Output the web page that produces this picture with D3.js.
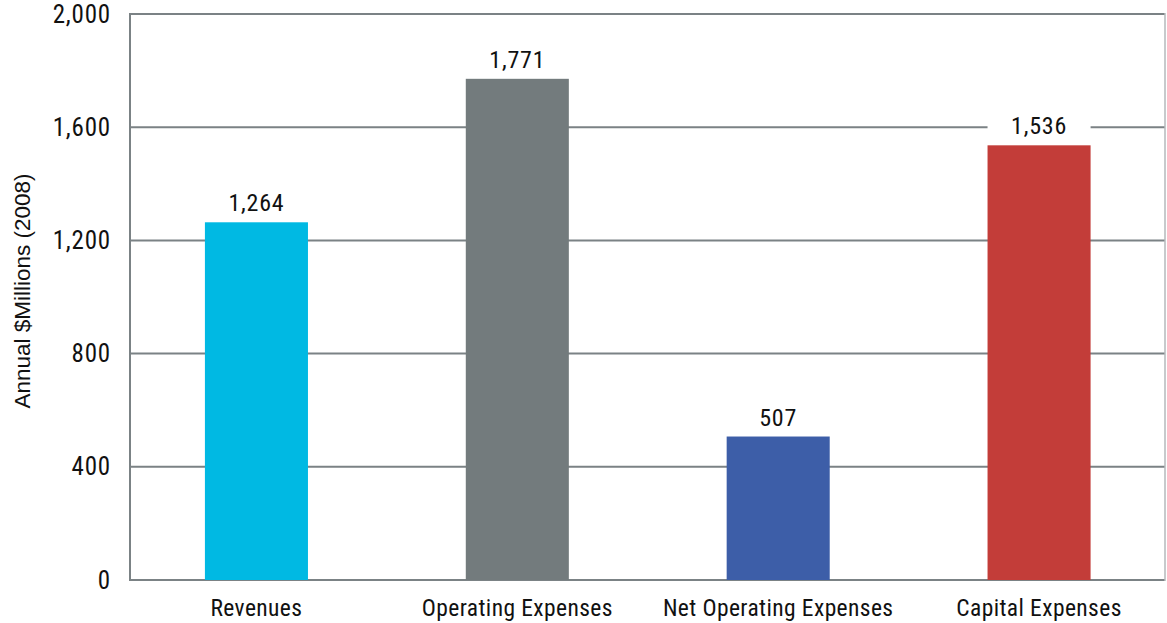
<!DOCTYPE html>
<html>
<head>
<meta charset="utf-8">
<script src="https://cdn.jsdelivr.net/npm/d3@7"></script>
<style>
  html, body { margin: 0; padding: 0; background: #fff; }
  svg { display: block; }
</style>
</head>
<body>
<svg id="chart" width="1167" height="623"></svg>
<script>
// Annual budget components, $ millions (2008)
const categories = ["Revenues", "Operating Expenses", "Net Operating Expenses", "Capital Expenses"];
const values = [1264, 1771, 507, 1536];
const barColors = ["#00b9e3", "#737b7d", "#3d5ea8", "#c33d39"];
const yTicks = [0, 400, 800, 1200, 1600, 2000];
const yTitle = "Annual $Millions (2008)";

const svg = d3.select("#chart");
const margin = { left: 130, right: 2, top: 14, bottom: 43 };
const W = 1167, H = 623;

// category slots (slightly wider than the framed plot area)
const x = d3.scaleBand()
  .domain(categories)
  .range([126, 1169.5])
  .padding(0);

const y = d3.scaleLinear()
  .domain([0, 2000])
  .range([H - margin.bottom, margin.top]);

const gridColor = "#7b8285";
const narrow = "'Roboto Condensed', 'Arial Narrow', 'Liberation Sans', sans-serif";

// horizontal gridlines
svg.append("g")
  .selectAll("line")
  .data(yTicks)
  .join("line")
  .attr("x1", margin.left)
  .attr("x2", W - margin.right)
  .attr("y1", d => y(d))
  .attr("y2", d => y(d))
  .attr("stroke", gridColor)
  .attr("stroke-width", 2);

// left frame line
svg.append("line")
  .attr("x1", margin.left).attr("x2", margin.left)
  .attr("y1", y(2000) - 1).attr("y2", y(0) + 1)
  .attr("stroke", gridColor).attr("stroke-width", 2);

// right frame line
svg.append("line")
  .attr("x1", W - margin.right).attr("x2", W - margin.right)
  .attr("y1", y(2000) - 1).attr("y2", y(0) + 1)
  .attr("stroke", "#b4b9bb").attr("stroke-width", 1.5);

// y tick labels
const yAxis = d3.axisLeft(y)
  .tickValues(yTicks)
  .tickFormat(d3.format(","))
  .tickSize(0)
  .tickPadding(19);
const gy = svg.append("g")
  .attr("transform", `translate(${margin.left},0)`)
  .call(yAxis);
gy.select(".domain").remove();
gy.selectAll("text")
  .attr("font-family", narrow)
  .attr("font-size", 25)
  .attr("letter-spacing", 0.8)
  .attr("fill", "#111");

// y title
svg.append("text")
  .attr("transform", `translate(30, ${(y(0) + y(2000)) / 2 - 6}) rotate(-90)`)
  .attr("text-anchor", "middle")
  .attr("font-family", "'Liberation Sans', Arial, sans-serif")
  .attr("font-size", 22.5)
  .attr("fill", "#111")
  .text(yTitle);

const barW = x.bandwidth() * 0.395;
const data = categories.map((c, i) => ({ c, v: values[i], color: barColors[i] }));

// white label backgrounds that interrupt the gridlines
svg.append("g")
  .selectAll("rect")
  .data(data)
  .join("rect")
  .attr("x", d => x(d.c) + (x.bandwidth() - barW) / 2)
  .attr("y", d => y(d.v) - 36)
  .attr("width", barW)
  .attr("height", 36)
  .attr("fill", "#fff");

// bars
svg.append("g")
  .selectAll("rect")
  .data(data)
  .join("rect")
  .attr("x", d => x(d.c) + (x.bandwidth() - barW) / 2)
  .attr("y", d => y(d.v))
  .attr("width", barW)
  .attr("height", d => y(0) - y(d.v))
  .attr("fill", d => d.color);

// value labels
svg.append("g")
  .selectAll("text")
  .data(data)
  .join("text")
  .attr("x", d => x(d.c) + x.bandwidth() / 2)
  .attr("y", d => y(d.v) - 11)
  .attr("text-anchor", "middle")
  .attr("font-family", narrow)
  .attr("font-size", 24)
  .attr("letter-spacing", 0.8)
  .attr("fill", "#111")
  .text(d => d3.format(",")(d.v));

// category labels
const xAxis = d3.axisBottom(x).tickSize(0).tickPadding(19);
const gx = svg.append("g")
  .attr("transform", `translate(0,${y(0)})`)
  .call(xAxis);
gx.select(".domain").remove();
gx.selectAll("text")
  .attr("font-family", narrow)
  .attr("font-size", 23.5)
  .attr("letter-spacing", 0.4)
  .attr("fill", "#111");
</script>
</body>
</html>
